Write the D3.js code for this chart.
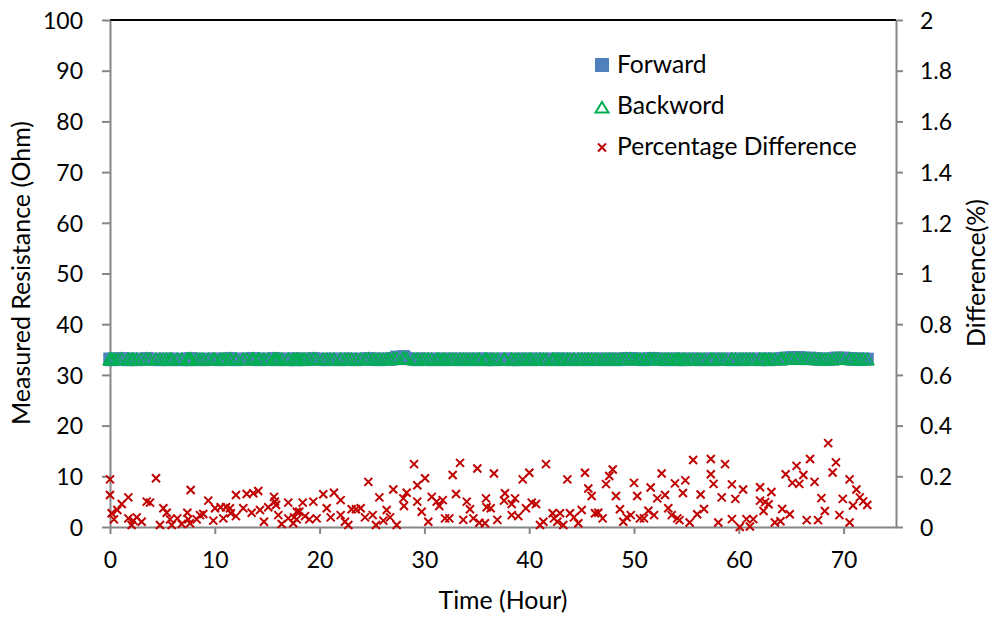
<!DOCTYPE html>
<html>
<head>
<meta charset="utf-8">
<script src="https://cdn.jsdelivr.net/npm/d3@7"></script>
<style>
  html, body { margin: 0; padding: 0; background: #ffffff; }
  svg { display: block; }
</style>
</head>
<body>
<svg id="chart" width="992" height="619"></svg>
<script>
// ---------------- DATA ----------------
const seriesNames = ["Forward", "Backword", "Percentage Difference"];
const xTitle = "Time (Hour)";
const yLeftTitle = "Measured Resistance (Ohm)";
const yRightTitle = "Difference(%)";

const xTicks = [0, 10, 20, 30, 40, 50, 60, 70];
const leftTicks = [0, 10, 20, 30, 40, 50, 60, 70, 80, 90, 100];
const rightTicks = [0, 0.2, 0.4, 0.6, 0.8, 1, 1.2, 1.4, 1.6, 1.8, 2];

// time of each measurement (hours)
const hours = [
  0,0,0.16,0.38,0.70,1.12,1.75,1.75,2.07,2.22,2.55,3.02,3.50,3.82,4.39,4.77,5.09,5.41,5.73,5.89,
  6.42,6.84,7.38,7.47,7.63,7.70,8.27,8.59,8.90,9.38,9.86,10.02,10.56,10.81,11.07,11.45,11.52,12.02,12.02,12.72,
  13.04,13.52,13.67,14.15,14.31,14.69,15.10,15.65,15.74,15.84,16.06,16.38,17.01,17.01,17.49,17.56,17.82,17.82,
  18.06,18.39,18.61,19.02,19.40,19.72,20.35,20.68,21.06,21.37,22.01,22.01,22.42,22.74,23.06,23.47,23.92,24.33,24.65,25.07,
  25.38,25.70,26.08,26.40,26.72,27.03,27.36,27.99,28.05,28.31,29.01,29.32,29.32,29.74,30.06,30.37,30.70,31.17,31.42,31.75,
  31.97,32.38,32.70,33.02,33.40,33.71,34.04,34.35,34.67,35.05,35.24,35.78,35.88,35.94,
  36.33,36.64,36.96,37.60,37.69,38.33,38.33,38.65,38.96,39.38,39.69,40.01,40.24,40.65,41.03,41.35,41.60,42.24,42.37,42.68,
  42.94,43.25,43.64,43.89,44.27,44.69,45.01,45.32,45.64,45.96,46.28,46.59,47.01,47.33,47.64,47.97,48.28,48.66,48.98,49.30,
  49.69,50.00,50.31,50.57,50.95,51.37,51.59,51.91,52.22,52.64,52.96,53.27,53.60,53.91,54.13,
  54.34,54.67,54.90,55.31,55.64,56.03,56.36,56.68,57.33,57.33,57.59,58.04,58.37,58.69,59.34,59.34,59.67,60.09,60.41,60.73,
  61.06,61.38,62.03,62.03,62.36,62.52,62.84,63.11,63.44,63.98,64.14,64.47,64.86,65.11,65.51,65.77,66.16,66.48,66.80,67.23,
  67.56,67.88,68.21,68.53,68.95,69.27,69.60,69.92,70.57,70.57,70.90,71.22,71.55,71.87,72.26
];

// forward measured resistance (Ohm)
const forward = [
  33.1,33.1,33.0,33.1,33.1,33.2,33.1,33.0,33.1,33.1,33.0,33.1,33.2,33.1,33.1,33.0,33.1,33.1,33.0,33.1,
  33.1,33.0,33.1,33.1,33.0,33.2,33.1,33.1,33.0,33.1,33.1,33.1,33.0,33.1,33.1,33.2,33.1,33.1,33.0,33.1,
  33.1,33.1,33.2,33.1,33.0,33.1,33.1,33.2,33.1,33.0,33.1,33.1,33.0,33.1,33.1,33.1,33.0,33.1,
  33.1,33.0,33.1,33.1,33.2,33.1,33.1,33.0,33.1,33.1,33.1,33.0,33.1,33.1,33.1,33.0,33.1,33.1,33.2,33.1,
  33.1,33.0,33.1,33.1,33.1,33.2,33.5,33.6,33.5,33.2,33.1,33.1,33.0,33.1,33.1,33.1,33.0,33.1,33.1,33.1,
  33.0,33.1,33.1,33.1,33.0,33.1,33.1,33.1,33.0,33.1,33.1,33.1,33.0,33.1,
  33.1,33.0,33.1,33.1,33.1,33.0,33.1,33.1,33.0,33.1,33.1,33.1,33.0,33.1,33.1,33.1,33.0,33.1,33.1,33.1,
  33.0,33.1,33.1,33.1,33.0,33.1,33.1,33.1,33.0,33.1,33.1,33.1,33.0,33.1,33.1,33.1,33.0,33.1,33.1,33.2,
  33.2,33.1,33.1,33.1,33.0,33.1,33.2,33.2,33.1,33.1,33.0,33.1,33.1,33.1,33.0,
  33.1,33.1,33.0,33.1,33.1,33.1,33.0,33.1,33.1,33.1,33.0,33.1,33.1,33.1,33.0,33.1,33.1,33.1,33.0,33.1,
  33.1,33.1,33.0,33.1,33.1,33.1,33.0,33.1,33.1,33.1,33.2,33.3,33.3,33.4,33.4,33.4,33.3,33.2,33.3,33.2,
  33.1,33.1,33.1,33.1,33.1,33.3,33.3,33.3,33.2,33.2,33.1,33.1,33.1,33.1,33.1
];

// backward measured resistance (Ohm)
const backward = [
  32.8,32.8,32.8,32.8,32.8,32.9,32.8,32.8,32.8,32.8,32.8,32.8,32.9,32.8,32.8,32.8,32.8,32.8,32.8,32.8,
  32.8,32.8,32.8,32.8,32.8,32.9,32.8,32.8,32.8,32.8,32.8,32.8,32.8,32.8,32.8,32.9,32.8,32.8,32.8,32.8,
  32.8,32.8,32.9,32.8,32.8,32.8,32.8,32.9,32.8,32.8,32.8,32.8,32.8,32.8,32.8,32.8,32.8,32.8,
  32.8,32.8,32.8,32.8,32.9,32.8,32.8,32.8,32.8,32.8,32.8,32.8,32.8,32.8,32.8,32.8,32.8,32.8,32.9,32.8,
  32.8,32.8,32.8,32.8,32.8,32.9,33.0,33.1,33.0,32.9,32.8,32.8,32.8,32.8,32.8,32.8,32.8,32.8,32.8,32.8,
  32.8,32.8,32.8,32.8,32.8,32.8,32.8,32.8,32.8,32.8,32.8,32.8,32.8,32.8,
  32.8,32.8,32.8,32.8,32.8,32.8,32.8,32.8,32.8,32.8,32.8,32.8,32.8,32.8,32.8,32.8,32.8,32.8,32.8,32.8,
  32.8,32.8,32.8,32.8,32.8,32.8,32.8,32.8,32.8,32.8,32.8,32.8,32.8,32.8,32.8,32.8,32.8,32.8,32.8,32.9,
  32.9,32.8,32.8,32.8,32.8,32.8,32.9,32.9,32.8,32.8,32.8,32.8,32.8,32.8,32.8,
  32.8,32.8,32.8,32.8,32.8,32.8,32.8,32.8,32.8,32.8,32.8,32.8,32.8,32.8,32.8,32.8,32.8,32.8,32.8,32.8,
  32.8,32.8,32.8,32.8,32.8,32.8,32.8,32.8,32.8,32.8,32.9,32.9,32.9,32.9,32.9,32.9,32.9,32.9,32.9,32.9,
  32.8,32.8,32.8,32.8,32.8,32.9,32.9,32.9,32.9,32.9,32.8,32.8,32.8,32.8,32.8
];

// percentage difference between forward and backward (%)
const difference = [
  0.188,0.126,0.054,0.030,0.067,0.091,0.117,0.034,0.008,0.025,0.038,0.021,0.100,0.096,0.192,0.008,0.074,0.056,0.030,0.008,
  0.034,0.012,0.056,0.030,0.015,0.146,0.030,0.047,0.051,0.104,0.025,0.074,0.078,0.034,0.078,0.074,0.054,0.126,0.043,0.074,
  0.130,0.056,0.133,0.142,0.067,0.021,0.078,0.119,0.100,0.087,0.047,0.012,0.096,0.034,0.015,0.038,0.060,0.030,
  0.060,0.096,0.043,0.030,0.100,0.034,0.129,0.074,0.038,0.135,0.106,0.047,0.021,0.008,0.070,0.070,0.074,0.038,0.178,0.047,
  0.008,0.117,0.025,0.067,0.038,0.148,0.008,0.113,0.083,0.135,0.248,0.165,0.100,0.060,0.192,0.021,0.119,0.100,0.083,0.106,
  0.034,0.034,0.205,0.130,0.253,0.028,0.100,0.070,0.034,0.231,0.017,0.015,0.113,0.078,
  0.074,0.211,0.028,0.104,0.133,0.091,0.047,0.113,0.043,0.188,0.074,0.214,0.096,0.091,0.008,0.021,0.248,0.054,0.034,0.021,
  0.054,0.008,0.188,0.054,0.038,0.015,0.067,0.214,0.152,0.122,0.054,0.056,0.034,0.169,0.201,0.227,0.122,0.070,0.021,0.038,
  0.047,0.174,0.122,0.034,0.034,0.064,0.156,0.047,0.113,0.211,0.126,0.074,0.047,0.172,0.034,
  0.027,0.134,0.184,0.018,0.264,0.050,0.128,0.071,0.268,0.208,0.170,0.018,0.117,0.248,0.168,0.031,0.111,0.000,0.148,0.031,
  0.002,0.031,0.157,0.104,0.063,0.098,0.090,0.138,0.018,0.023,0.071,0.208,0.050,0.174,0.241,0.170,0.205,0.027,0.268,0.178,
  0.027,0.114,0.063,0.331,0.215,0.255,0.047,0.111,0.188,0.018,0.085,0.148,0.117,0.101,0.087
];

// ---------------- STYLE / LAYOUT ----------------
const FONT = "Lato, 'Open Sans', sans-serif";
const COL_FWD = "#4F81BD", COL_BWD = "#00B050", COL_DIFF = "#C00000", AXIS_COL = "#868686";
const plot = { left: 110, right: 896, top: 20, bottom: 527 };

const svg = d3.select("#chart");
svg.append("rect").attr("width", 992).attr("height", 619).attr("fill", "#fff");

const x = d3.scaleLinear().domain([0, 75]).range([plot.left, plot.right]);
const yL = d3.scaleLinear().domain([0, 100]).range([plot.bottom, plot.top]);
const yR = d3.scaleLinear().domain([0, 2]).range([plot.bottom, plot.top]);

function styleAxis(g, fs) {
  g.select(".domain").attr("stroke", AXIS_COL).attr("stroke-width", 2);
  g.selectAll(".tick line").attr("stroke", AXIS_COL).attr("stroke-width", 2);
  g.selectAll(".tick text").attr("fill", "#000").attr("font-family", FONT).attr("font-size", fs);
}

// top border
svg.append("line")
  .attr("x1", plot.left).attr("x2", plot.right)
  .attr("y1", plot.top).attr("y2", plot.top)
  .attr("stroke", "#000").attr("stroke-width", 2);

// left axis
const gL = svg.append("g").attr("transform", `translate(${plot.left},0)`)
  .call(d3.axisLeft(yL).tickValues(leftTicks).tickSize(8).tickSizeOuter(0).tickPadding(19));
styleAxis(gL, 23);
gL.selectAll(".tick text").attr("dy", "0.36em");

// right axis
const gR = svg.append("g").attr("transform", `translate(${plot.right},0)`)
  .call(d3.axisRight(yR).tickValues(rightTicks).tickSize(7).tickSizeOuter(0).tickPadding(17)
    .tickFormat(d => String(+d.toFixed(1))));
styleAxis(gR, 23);
gR.selectAll(".tick text").attr("dy", "0.36em");

// bottom axis
const gB = svg.append("g").attr("transform", `translate(0,${plot.bottom})`)
  .call(d3.axisBottom(x).tickValues(xTicks).tickSize(7).tickSizeOuter(0).tickPadding(18));
styleAxis(gB, 23);
gB.selectAll(".tick text").attr("dy", "0.71em");

// ---------------- MARKS ----------------
const idx = d3.range(hours.length);
const SQ = 13;
svg.append("g").selectAll("rect").data(idx).join("rect")
  .attr("x", i => x(hours[i]) - SQ / 2)
  .attr("y", i => yL(forward[i]) - SQ / 2)
  .attr("width", SQ).attr("height", SQ)
  .attr("fill", COL_FWD);

const tri = d3.symbol().type(d3.symbolTriangle).size(70);
svg.append("g").selectAll("path").data(idx).join("path")
  .attr("transform", i => `translate(${x(hours[i])},${yL(backward[i])})`)
  .attr("d", tri)
  .attr("fill", "none").attr("stroke", COL_BWD).attr("stroke-width", 1.6);

const xMark = (cx, cy, h) => `M${cx - h},${cy - h}L${cx + h},${cy + h}M${cx - h},${cy + h}L${cx + h},${cy - h}`;
svg.append("g").selectAll("path").data(idx).join("path")
  .attr("d", i => xMark(x(hours[i]), yR(difference[i]), 4))
  .attr("stroke", COL_DIFF).attr("stroke-width", 2).attr("fill", "none");

// ---------------- LEGEND ----------------
const leg = svg.append("g");
const legX = 602, legRows = [73, 114, 155];
leg.append("rect").attr("x", legX - 7).attr("y", legRows[0] - 15).attr("width", 14).attr("height", 14).attr("fill", COL_FWD);
leg.append("path").attr("d", `M${legX},${legRows[1] - 12}L${legX + 6.5},${legRows[1] - 1.5}L${legX - 6.5},${legRows[1] - 1.5}Z`)
  .attr("fill", "none").attr("stroke", COL_BWD).attr("stroke-width", 2);
leg.append("path").attr("d", xMark(legX, legRows[2] - 7.5, 4)).attr("stroke", COL_DIFF).attr("stroke-width", 2);

const legTexts = seriesNames.map((n, i) =>
  leg.append("text").attr("x", 617).attr("y", legRows[i]).attr("font-family", FONT).attr("font-size", 24).attr("fill", "#000").text(n));

function fitSize(sel, target) {
  const w = sel.node().getComputedTextLength();
  const fs = parseFloat(sel.attr("font-size"));
  return fs * target / w;
}
const legFs = fitSize(legTexts[2], 240);
legTexts.forEach(t => t.attr("font-size", legFs));

// ---------------- TITLES ----------------
const tX = svg.append("text").attr("x", 503).attr("y", 609).attr("text-anchor", "middle")
  .attr("font-family", FONT).attr("font-size", 24).attr("fill", "#000").text(xTitle);
tX.attr("font-size", fitSize(tX, 129));

const tL = svg.append("text").attr("transform", "translate(30,273) rotate(-90)").attr("text-anchor", "middle")
  .attr("font-family", FONT).attr("font-size", 24).attr("fill", "#000").text(yLeftTitle);
tL.attr("font-size", fitSize(tL, 304));

const tR = svg.append("text").attr("transform", "translate(985,273) rotate(-90)").attr("text-anchor", "middle")
  .attr("font-family", FONT).attr("font-size", 24).attr("fill", "#000").text(yRightTitle);
tR.attr("font-size", fitSize(tR, 148));
</script>
</body>
</html>
